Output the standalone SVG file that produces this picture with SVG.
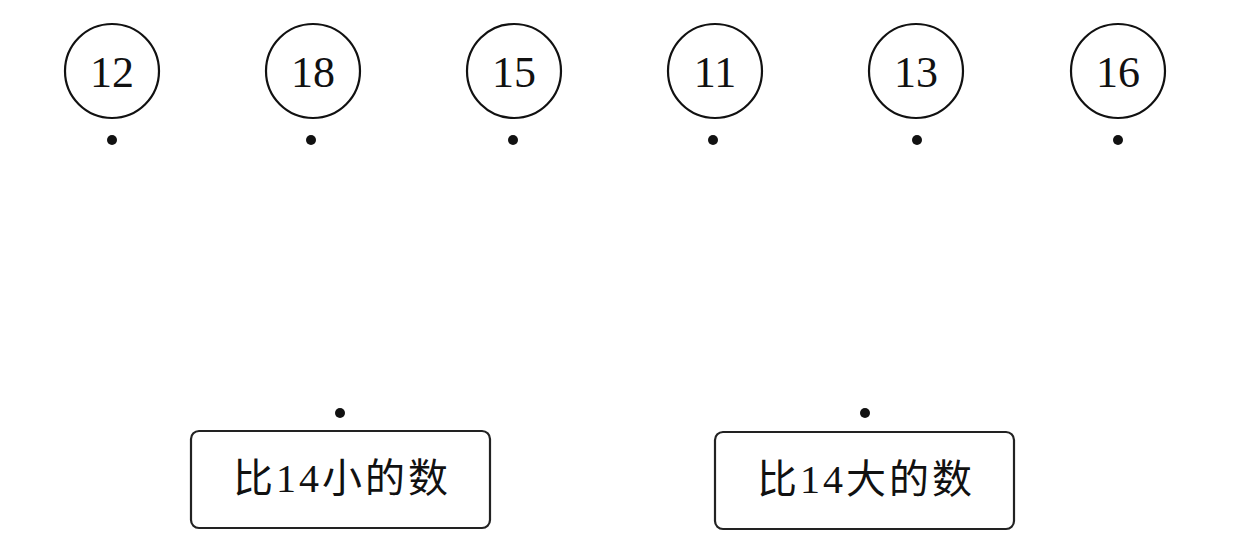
<svg xmlns="http://www.w3.org/2000/svg" width="1254" height="550" viewBox="0 0 1254 550">
<style>
.c{fill:none;stroke:#111;stroke-width:2.2}
.n{font-family:"Liberation Serif",serif;font-size:44px;fill:#111;text-anchor:middle}
.d{fill:#111}
.b{fill:none;stroke:#222;stroke-width:2.2}
.t{font-family:"Liberation Serif","Noto Sans CJK SC",serif;font-size:40px;fill:#111;text-anchor:middle;letter-spacing:3px}
</style>
<rect width="1254" height="550" fill="#fff"/>
<g id="n12"><circle class="c" cx="112" cy="71" r="47"/><text class="n" x="112" y="87">12</text><circle class="d" cx="112" cy="140" r="5"/></g>
<g id="n18"><circle class="c" cx="313" cy="71" r="47"/><text class="n" x="313" y="87">18</text><circle class="d" cx="311" cy="140" r="5"/></g>
<g id="n15"><circle class="c" cx="514" cy="71" r="47"/><text class="n" x="514" y="87">15</text><circle class="d" cx="513" cy="140" r="5"/></g>
<g id="n11"><circle class="c" cx="715" cy="71" r="47"/><text class="n" x="715" y="87">11</text><circle class="d" cx="713" cy="140" r="5"/></g>
<g id="n13"><circle class="c" cx="916" cy="71" r="47"/><text class="n" x="916" y="87">13</text><circle class="d" cx="917" cy="140" r="5"/></g>
<g id="n16"><circle class="c" cx="1118" cy="71" r="47"/><text class="n" x="1118" y="87">16</text><circle class="d" cx="1118" cy="140" r="5"/></g>
<g id="small"><circle class="d" cx="340" cy="413" r="5"/><rect class="b" x="191" y="431" width="299" height="97" rx="8"/><text class="t" x="342" y="492">比14小的数</text></g>
<g id="big"><circle class="d" cx="865" cy="413" r="5"/><rect class="b" x="715" y="432" width="299" height="97" rx="8"/><text class="t" x="866" y="493">比14大的数</text></g>
<g id="connectors"></g>
</svg>
